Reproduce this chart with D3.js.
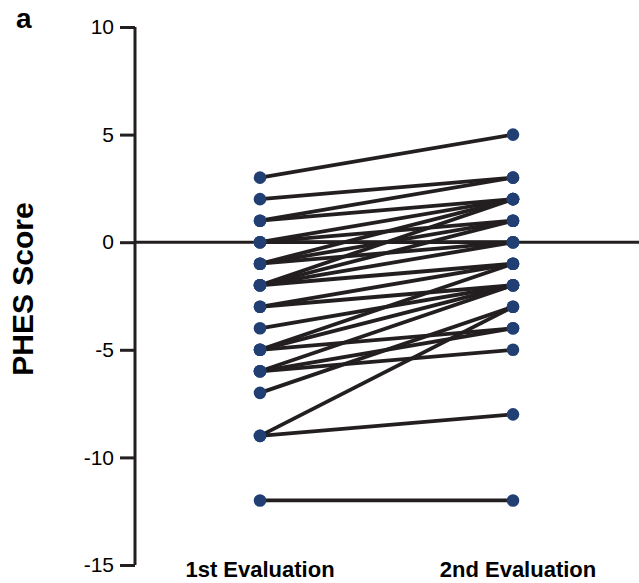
<!DOCTYPE html>
<html>
<head>
<meta charset="utf-8">
<script src="https://cdn.jsdelivr.net/npm/d3@7"></script>
<style>
  html, body { margin: 0; padding: 0; background: #fff; }
  svg { display: block; font-family: "Liberation Sans", Arial, sans-serif; }
</style>
</head>
<body>
<svg id="chart" width="639" height="583"></svg>
<script>
// Evaluation time points
const evaluations = ["1st Evaluation", "2nd Evaluation"];
// PHES score of each patient at the first and second evaluation (paired by index)
const firstScores  = [3, 2, 1, 1, 0, 0, 0, -1, -1, -1, -2, -2, -2, -2, -3, -3, -4, -5, -5, -5, -6, -6, -6, -7, -9, -9, -12];
const secondScores = [5, 3, 3, 2, 0, 1, 2, 1, 2, 0, 2, 1, 0, -1, -1, -2, -2, -1, -2, -4, -2, -4, -5, -3, -3, -8, -12];
// Y axis ticks
const yTicks = [-15, -10, -5, 0, 5, 10];

const svg = d3.select("#chart");

const y = d3.scaleLinear().domain([-15, 10]).range([565, 27]);
const x = d3.scalePoint().domain(evaluations).range([260, 513]);

const axisX = 135;
const ink = "#231f20";
const dotColor = "#213f73";

// Y axis with outward ticks; plain hyphen for negative numbers
const yAxis = d3.axisLeft(y).tickValues(yTicks).tickSize(15).tickPadding(6).tickFormat(d => String(d));
const gy = svg.append("g").attr("transform", `translate(${axisX},0)`).call(yAxis);
gy.select(".domain").attr("stroke", ink).attr("stroke-width", 3).attr("d", `M0,${y(-15)}V${y(10)}`);
gy.selectAll(".tick line").attr("stroke", ink).attr("stroke-width", 3);
gy.selectAll(".tick text")
  .attr("fill", "#000")
  .style("font-size", "21px")
  .style("font-family", "'Liberation Sans', Arial, sans-serif");

// Zero reference line
svg.append("line")
  .attr("x1", axisX).attr("x2", 639)
  .attr("y1", y(0)).attr("y2", y(0))
  .attr("stroke", ink).attr("stroke-width", 3);

// Paired lines between evaluations
const pairs = firstScores.map((v, i) => ({ a: v, b: secondScores[i] }));
svg.append("g").selectAll("line").data(pairs).join("line")
  .attr("x1", x(evaluations[0])).attr("y1", d => y(d.a))
  .attr("x2", x(evaluations[1])).attr("y2", d => y(d.b))
  .attr("stroke", ink).attr("stroke-width", 3.8);

// Points at each evaluation
const points = [];
pairs.forEach(p => {
  points.push({ e: evaluations[0], v: p.a });
  points.push({ e: evaluations[1], v: p.b });
});
svg.append("g").selectAll("circle").data(points).join("circle")
  .attr("cx", d => x(d.e)).attr("cy", d => y(d.v)).attr("r", 6.3)
  .attr("fill", dotColor);

// Category labels
svg.append("g").selectAll("text").data(evaluations).join("text")
  .attr("x", (d, i) => x(d) + (i === 1 ? 5 : 0))
  .attr("y", 577)
  .attr("text-anchor", "middle")
  .style("font-size", "22px").style("font-weight", "bold")
  .text(d => d);

// Y axis title
svg.append("text")
  .attr("transform", `translate(33,289) rotate(-90)`)
  .attr("text-anchor", "middle")
  .style("font-size", "30px").style("font-weight", "bold")
  .text("PHES Score");

// Panel letter
svg.append("text")
  .attr("x", 16).attr("y", 28)
  .style("font-size", "28px").style("font-weight", "bold")
  .text("a");
</script>
</body>
</html>
